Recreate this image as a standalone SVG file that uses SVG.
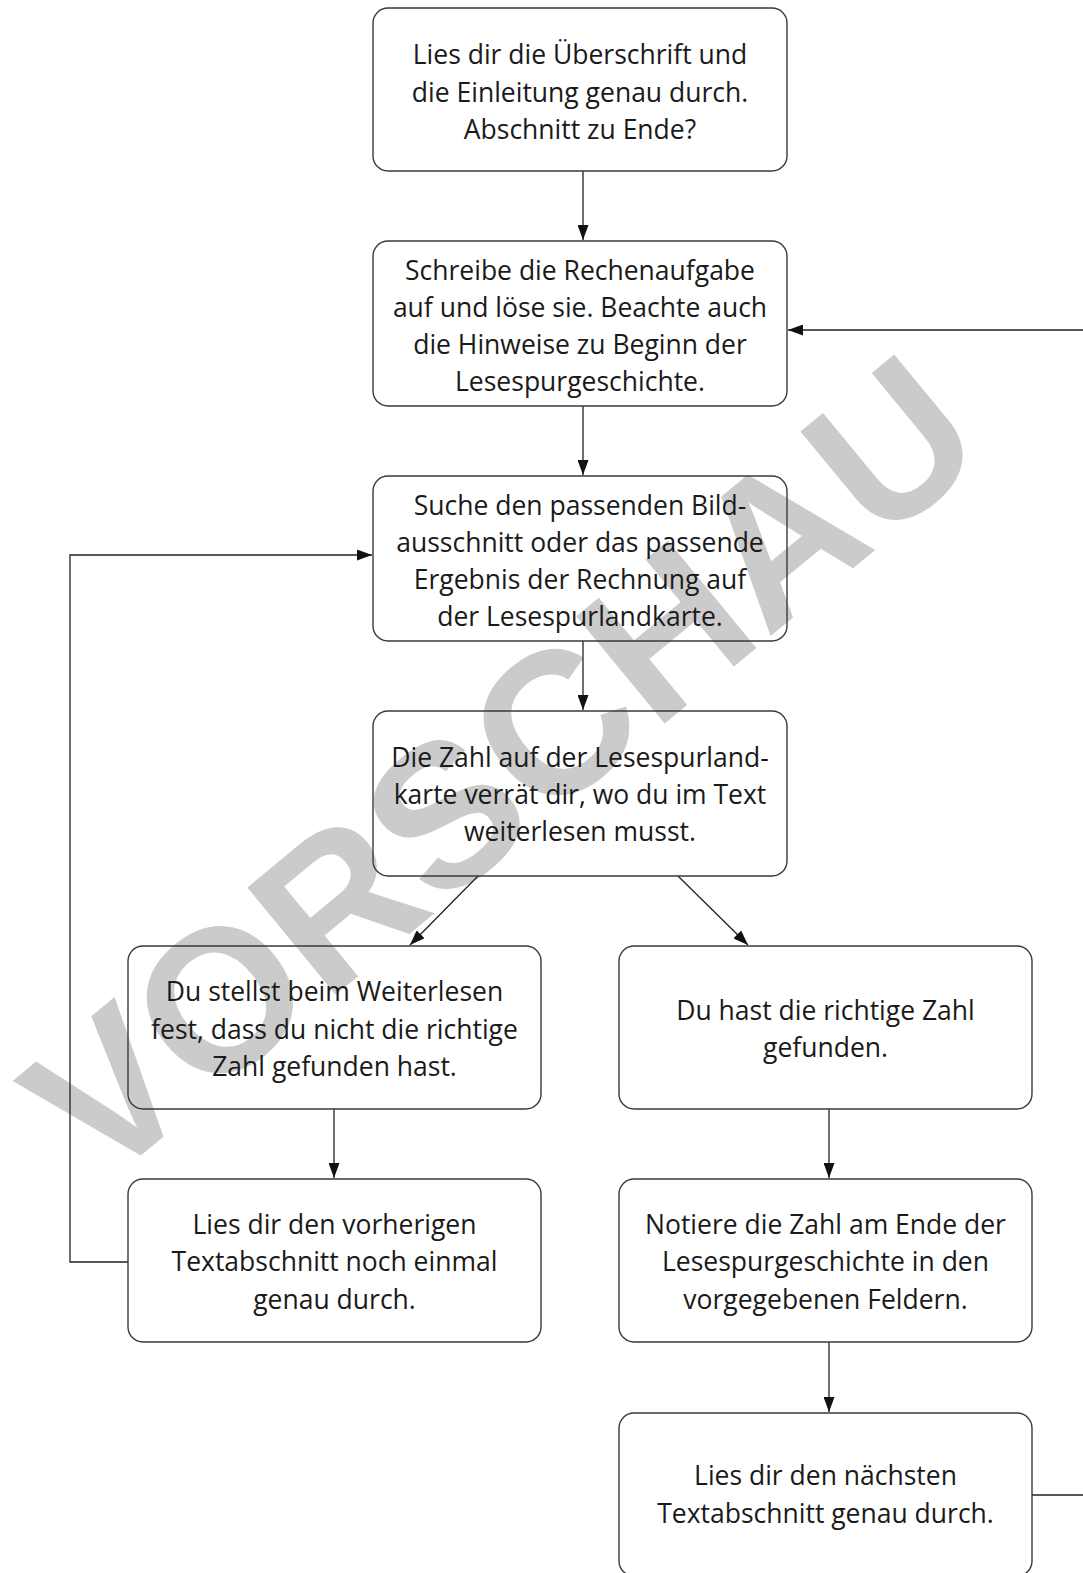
<svg xmlns="http://www.w3.org/2000/svg" width="1083" height="1573" viewBox="0 0 1083 1573">
<style>
.box{fill:none;stroke:#3a3a3a;stroke-width:1.4}
.t{font-family:"Open Sans","Liberation Sans",sans-serif;font-size:26.5px;fill:#1a1a1a;text-anchor:middle}
.c{fill:none;stroke:#222;stroke-width:1.3}
.wm{font-family:"Liberation Sans",Arial,sans-serif;font-weight:bold;font-size:202px;fill:#cbcbcb}
</style>
<defs>
<marker id="ah" viewBox="0 0 15 11" refX="15" refY="5.5" markerWidth="15" markerHeight="11" markerUnits="userSpaceOnUse" orient="auto">
<path d="M0,0 L15,5.5 L0,11 z" fill="#111"/>
</marker>
</defs>
<rect width="1083" height="1573" fill="#fff"/>
<text class="wm" transform="translate(100,1189) rotate(-39.5)">VORSCHAU</text>
<g id="connectors">
<line class="c" x1="583" y1="171" x2="583" y2="240" marker-end="url(#ah)"/>
<line class="c" x1="583" y1="406" x2="583" y2="475" marker-end="url(#ah)"/>
<line class="c" x1="583" y1="641" x2="583" y2="710" marker-end="url(#ah)"/>
<line class="c" x1="478" y1="876" x2="410" y2="945" marker-end="url(#ah)"/>
<line class="c" x1="678" y1="876" x2="748" y2="945" marker-end="url(#ah)"/>
<line class="c" x1="334" y1="1109" x2="334" y2="1178" marker-end="url(#ah)"/>
<line class="c" x1="829" y1="1109" x2="829" y2="1178" marker-end="url(#ah)"/>
<line class="c" x1="829" y1="1342" x2="829" y2="1412" marker-end="url(#ah)"/>
<path class="c" d="M128,1262 H70 V555 H372" marker-end="url(#ah)"/>
<path class="c" d="M1032,1495 H1095 V330 H788" marker-end="url(#ah)"/>
</g>
<g id="n1"><rect class="box" x="373" y="8" width="414" height="163" rx="15"/>
<text class="t" x="580" y="64">Lies dir die Überschrift und</text>
<text class="t" x="580" y="102">die Einleitung genau durch.</text>
<text class="t" x="580" y="139">Abschnitt zu Ende?</text></g>
<g id="n2"><rect class="box" x="373" y="241" width="414" height="165" rx="15"/>
<text class="t" x="580" y="280">Schreibe die Rechenaufgabe</text>
<text class="t" x="580" y="317">auf und löse sie. Beachte auch</text>
<text class="t" x="580" y="354">die Hinweise zu Beginn der</text>
<text class="t" x="580" y="391">Lesespurgeschichte.</text></g>
<g id="n3"><rect class="box" x="373" y="476" width="414" height="165" rx="15"/>
<text class="t" x="580" y="515">Suche den passenden Bild-</text>
<text class="t" x="580" y="552">ausschnitt oder das passende</text>
<text class="t" x="580" y="589">Ergebnis der Rechnung auf</text>
<text class="t" x="580" y="626">der Lesespurlandkarte.</text></g>
<g id="n4"><rect class="box" x="373" y="711" width="414" height="165" rx="15"/>
<text class="t" x="580" y="767">Die Zahl auf der Lesespurland-</text>
<text class="t" x="580" y="804">karte verrät dir, wo du im Text</text>
<text class="t" x="580" y="841">weiterlesen musst.</text></g>
<g id="n5"><rect class="box" x="128" y="946" width="413" height="163" rx="15"/>
<text class="t" x="334.5" y="1001">Du stellst beim Weiterlesen</text>
<text class="t" x="334.5" y="1039">fest, dass du nicht die richtige</text>
<text class="t" x="334.5" y="1076">Zahl gefunden hast.</text></g>
<g id="n6"><rect class="box" x="619" y="946" width="413" height="163" rx="15"/>
<text class="t" x="825.5" y="1020">Du hast die richtige Zahl</text>
<text class="t" x="825.5" y="1057">gefunden.</text></g>
<g id="n7"><rect class="box" x="128" y="1179" width="413" height="163" rx="15"/>
<text class="t" x="334.5" y="1234">Lies dir den vorherigen</text>
<text class="t" x="334.5" y="1271">Textabschnitt noch einmal</text>
<text class="t" x="334.5" y="1309">genau durch.</text></g>
<g id="n8"><rect class="box" x="619" y="1179" width="413" height="163" rx="15"/>
<text class="t" x="825.5" y="1234">Notiere die Zahl am Ende der</text>
<text class="t" x="825.5" y="1271">Lesespurgeschichte in den</text>
<text class="t" x="825.5" y="1309">vorgegebenen Feldern.</text></g>
<g id="n9"><rect class="box" x="619" y="1413" width="413" height="163" rx="15"/>
<text class="t" x="825.5" y="1485">Lies dir den nächsten</text>
<text class="t" x="825.5" y="1523">Textabschnitt genau durch.</text></g>
</svg>
